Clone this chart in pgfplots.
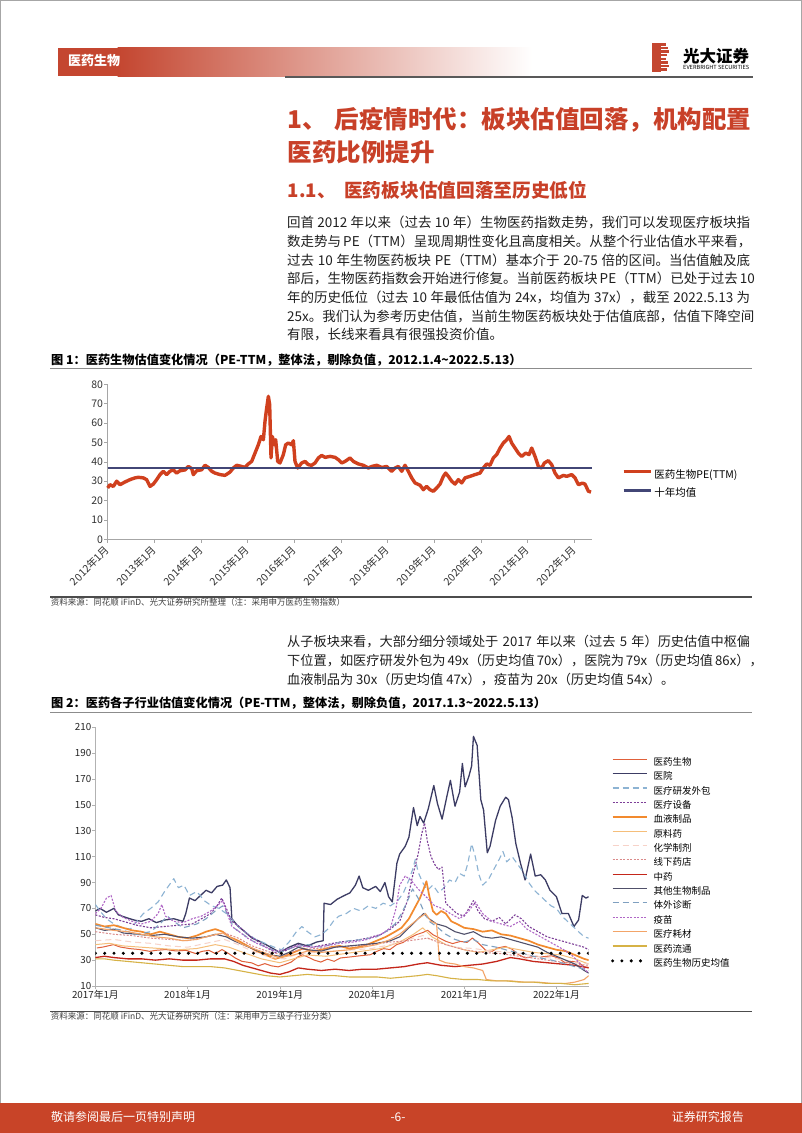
\documentclass[border=0pt]{standalone}
\usepackage{fontspec}
\setmainfont{Noto Sans CJK SC}
\usepackage{pgfplots}
\pgfplotsset{compat=1.18}
\XeTeXlinebreaklocale "zh"
\XeTeXlinebreakskip=0pt plus 2pt minus 0.6pt
\definecolor{hdred}{RGB}{196,70,48}
\definecolor{titlered}{RGB}{200,64,40}
\definecolor{footred}{RGB}{200,68,40}
\definecolor{pered}{RGB}{208,64,30}
\definecolor{penavy}{RGB}{66,70,118}
\definecolor{cA}{RGB}{224,96,58}
\definecolor{cB}{RGB}{60,60,100}
\definecolor{cC}{RGB}{141,179,211}
\definecolor{cD}{RGB}{125,63,152}
\definecolor{cE}{RGB}{242,138,46}
\definecolor{cF}{RGB}{245,190,122}
\definecolor{cG}{RGB}{247,210,200}
\definecolor{cH}{RGB}{218,138,138}
\definecolor{cI}{RGB}{196,38,26}
\definecolor{cJ}{RGB}{80,80,106}
\definecolor{cK}{RGB}{127,160,192}
\definecolor{cL}{RGB}{176,103,198}
\definecolor{cM}{RGB}{243,164,104}
\definecolor{cN}{RGB}{214,178,70}
\newcommand\fs[1]{\fontsize{#1}{#1}\selectfont}
\newcommand\jline[1]{\makebox[463pt][s]{#1}}
\begin{document}
\begin{tikzpicture}
\begin{scope}[x=1pt,y=1pt]
\useasboundingbox (0,0) rectangle (802,-1133);
\fill[white] (0,0) rectangle (802,-1133);
\draw[black!35, line width=1pt] (0.5,-0.5) rectangle (801.5,-1132.5);
% header
\fill[hdred] (58,-47.7) rectangle (118,-76);
\shade[left color=hdred, right color=white] (117.5,-47.7) rectangle (532,-76);
\node[anchor=base west, inner sep=0, text=white, font=\fs{13}\bfseries] at (68,-65.7) {医药生物};
\draw[black!65, line width=2pt] (285,-76.7) -- (753,-76.7);
\fill[hdred] (652,-43) rectangle (661,-72);
\foreach \k/\w in {0/5,1/7,2/8,3/6,4/5,5/7,6/8,7/6} {
  \fill[hdred] (661,{-43-\k*3.625}) rectangle ({661+\w},{-43-\k*3.625-2.6});
}
\node[anchor=base west, inner sep=0, font=\fs{16.5}\bfseries] at (683,-62) {\resizebox{66pt}{!}{光大证券}};
\node[anchor=base west, inner sep=0, font=\fs{5}] at (683,-69) {\resizebox{66pt}{!}{EVERBRIGHT SECURITIES}};
% titles
\node[anchor=base west, inner sep=0, text=titlered, font=\fs{24.5}\bfseries] at (287.6,-128.8) {\makebox[462.4pt][s]{1、\hspace{4pt} 后疫情时代：板块估值回落，机构配置}};
\node[anchor=base west, inner sep=0, text=titlered, font=\fs{24.5}\bfseries] at (287.6,-161.8) {医药比例提升};
\node[anchor=base west, inner sep=0, text=titlered, font=\fs{18.7}\bfseries] at (287.6,-197.4) {1.1、};
\node[anchor=base west, inner sep=0, text=titlered, font=\fs{18.7}\bfseries] at (344,-197.4) {医药板块估值回落至历史低位};
% paragraphs
\begin{scope}[every node/.style={anchor=base west, inner sep=0, font=\fs{13.5}, text=black!88}]
\node at (287,-227.6) {\jline{回首 2012 年以来（过去 10 年）生物医药指数走势，我们可以发现医疗板块指}};
\node at (287,-246.3) {\jline{数走势与 PE（TTM）呈现周期性变化且高度相关。从整个行业估值水平来看，}};
\node at (287,-265.0) {\jline{过去 10 年生物医药板块 PE（TTM）基本介于 20-75 倍的区间。当估值触及底}};
\node at (287,-283.8) {\jline{部后，生物医药指数会开始进行修复。当前医药板块 PE（TTM）已处于过去 10}};
\node at (287,-302.5) {\jline{年的历史低位（过去 10 年最低估值为 24x，均值为 37x），截至 2022.5.13 为}};
\node at (287,-321.2) {\jline{25x。我们认为参考历史估值，当前生物医药板块处于估值底部，估值下降空间}};
\node at (287,-339.9) {有限，长线来看具有很强投资价值。};
\end{scope}
\begin{scope}[every node/.style={anchor=base west, inner sep=0, font=\fs{13.2}, text=black!88}]
\node at (287,-646.6) {\jline{从子板块来看，大部分细分领域处于 2017 年以来（过去 5 年）历史估值中枢偏}};
\node at (287,-665.9) {\jline{下位置，如医疗研发外包为 49x（历史均值 70x），医院为 79x（历史均值 86x），}};
\node at (287,-684.9) {血液制品为 30x（历史均值 47x），疫苗为 20x（历史均值 54x）。};
\end{scope}
% figure 1 frame
\node[anchor=base west, inner sep=0, font=\fs{12.2}\bfseries] at (51,-364.4) {图 1：医药生物估值变化情况（PE-TTM，整体法，剔除负值，2012.1.4\textasciitilde 2022.5.13）};
\draw[black!45, line width=0.9pt] (50,-368.3) -- (752,-368.3);
\draw[black!70, line width=1.3pt] (50,-597) -- (752,-597);
\node[anchor=base west, inner sep=0, font=\fs{8.5}, text=black!75] at (50.7,-605.4) {资料来源：同花顺 iFinD、光大证券研究所整理（注：采用申万医药生物指数）};
% figure 2 frame
\node[anchor=base west, inner sep=0, font=\fs{12.2}\bfseries] at (51,-707.9) {图 2：医药各子行业估值变化情况（PE-TTM，整体法，剔除负值，2017.1.3\textasciitilde 2022.5.13）};
\draw[black!45, line width=0.9pt] (50,-712.5) -- (752,-712.5);
\draw[black!70, line width=1.3pt] (50,-1011.7) -- (752,-1011.7);
\node[anchor=base west, inner sep=0, font=\fs{8.5}, text=black!75] at (50.7,-1019.8) {资料来源：同花顺 iFinD、光大证券研究所（注：采用申万三级子行业分类）};
% footer
\fill[footred] (0,-1103) rectangle (802,-1133);
\node[anchor=base west, inner sep=0, text=white, font=\fs{12}] at (51,-1121.3) {敬请参阅最后一页特别声明};
\node[anchor=base, inner sep=0, text=white, font=\fs{12}] at (398,-1121.3) {-6-};
\node[anchor=base east, inner sep=0, text=white, font=\fs{12}] at (744,-1121.3) {证券研究报告};
\end{scope}

% ---------- chart 1 ----------
\begin{axis}[
  at={(107.7pt,-539.3pt)}, anchor=south west,
  scale only axis, width=484pt, height=155pt,
  xmin=2012, xmax=2022.375, ymin=0, ymax=80,
  axis x line=bottom, axis y line=left,
  axis line style={-, draw=black!35, line width=0.8pt},
  tick align=outside, major tick length=3.5pt,
  tick style={draw=black!35, line width=0.6pt},
  xtick={2012,2013,...,2022},
  xticklabels={2012年1月,2013年1月,2014年1月,2015年1月,2016年1月,2017年1月,2018年1月,2019年1月,2020年1月,2021年1月,2022年1月},
  ytick={0,10,...,80},
  /pgf/number format/assume math mode=true,
  ticklabel style={font=\fs{10.5}, text=black!80},
  xticklabel style={rotate=45, anchor=east, inner sep=0pt},
  xticklabel shift=5pt,
  yticklabel style={inner sep=1pt},
  legend style={at={(1.062,0.4484)}, anchor=north west, draw=none, fill=none, inner sep=0pt, font=\fs{10.5}, row sep=8.2pt, column sep=1.5pt, nodes={inner sep=0pt, text height=8pt, text depth=2.5pt}},
  legend cell align=left,
  legend image code/.code={\draw[#1] (0pt,3.8pt) -- (27.6pt,3.8pt);},
  clip=false,
]
\addplot[pered, line width=3.4pt, line join=round] coordinates {
(2012.000,26.5)(2012.049,28.2)(2012.121,27.3)(2012.192,30.0)(2012.264,28.2)(2012.371,29.6)(2012.478,30.8)(2012.585,31.7)(2012.657,32.0)(2012.764,31.7)(2012.835,30.8)(2012.907,27.3)(2012.978,28.5)(2013.050,30.8)(2013.121,33.4)(2013.193,35.1)(2013.264,33.4)(2013.335,35.1)(2013.407,35.9)(2013.478,34.2)(2013.550,35.4)(2013.657,35.8)(2013.729,37.6)(2013.800,36.5)(2013.836,33.4)(2013.907,35.4)(2014.014,35.9)(2014.086,38.2)(2014.157,37.1)(2014.229,35.1)(2014.300,34.2)(2014.407,33.4)(2014.514,33.0)(2014.622,34.7)(2014.693,36.8)(2014.765,38.2)(2014.872,37.6)(2014.943,37.1)(2015.015,38.9)(2015.086,40.2)(2015.158,44.5)(2015.229,48.8)(2015.287,53.1)(2015.337,51.4)(2015.372,60.9)(2015.408,67.8)(2015.444,73.8)(2015.472,69.5)(2015.501,42.0)(2015.529,53.1)(2015.572,48.8)(2015.601,51.4)(2015.644,40.2)(2015.694,39.4)(2015.765,43.7)(2015.815,48.8)(2015.872,49.7)(2015.944,48.8)(2015.980,50.9)(2016.015,40.2)(2016.073,36.8)(2016.158,39.4)(2016.230,40.2)(2016.301,38.5)(2016.373,38.2)(2016.444,39.4)(2016.516,42.0)(2016.587,43.3)(2016.659,42.3)(2016.766,42.8)(2016.873,42.3)(2016.945,41.1)(2017.016,39.4)(2017.088,40.2)(2017.195,42.0)(2017.266,40.2)(2017.373,38.9)(2017.481,38.2)(2017.588,36.8)(2017.659,37.6)(2017.766,38.2)(2017.874,37.1)(2017.981,37.6)(2018.088,35.1)(2018.159,36.8)(2018.231,37.6)(2018.302,35.1)(2018.373,38.2)(2018.445,35.1)(2018.516,31.7)(2018.588,29.1)(2018.695,27.9)(2018.766,25.6)(2018.838,27.3)(2018.909,25.6)(2018.981,24.8)(2019.052,26.5)(2019.124,28.5)(2019.195,32.5)(2019.245,34.2)(2019.302,32.5)(2019.374,30.0)(2019.445,28.5)(2019.517,30.8)(2019.588,29.1)(2019.660,31.7)(2019.766,32.5)(2019.874,33.4)(2019.981,34.2)(2020.052,36.8)(2020.124,38.9)(2020.195,38.2)(2020.267,42.0)(2020.338,43.7)(2020.410,47.1)(2020.481,49.7)(2020.553,51.4)(2020.603,53.1)(2020.660,49.7)(2020.731,47.1)(2020.803,44.5)(2020.874,42.8)(2020.960,44.5)(2021.031,43.7)(2021.089,47.1)(2021.160,42.8)(2021.232,37.6)(2021.303,36.8)(2021.360,39.4)(2021.446,40.6)(2021.518,38.5)(2021.589,34.2)(2021.661,31.7)(2021.768,33.0)(2021.839,32.5)(2021.947,33.4)(2022.018,31.7)(2022.090,28.2)(2022.175,29.0)(2022.232,28.5)(2022.304,24.8)(2022.361,24.4)};
\addlegendentry{医药生物PE(TTM)}
\addplot[penavy, line width=2.6pt] coordinates {(2012,36.8)(2022.375,36.8)};
\addlegendentry{十年均值}
\end{axis}

% ---------- chart 2 ----------
\begin{axis}[
  at={(95.4pt,-986pt)}, anchor=south west,
  scale only axis, width=493.3pt, height=258.7pt,
  xmin=2017, xmax=2022.35, ymin=10, ymax=210,
  axis x line=bottom, axis y line=left,
  axis line style={-, draw=black!30, line width=0.8pt},
  tick align=outside, major tick length=3pt,
  tick style={draw=black!30, line width=0.6pt},
  xtick={2017,2018,...,2022},
  xticklabels={2017年1月,2018年1月,2019年1月,2020年1月,2021年1月,2022年1月},
  ytick={10,30,...,210},
  /pgf/number format/assume math mode=true,
  ticklabel style={font=\fs{9.8}, text=black!85},
  xticklabel style={inner sep=1pt},
  yticklabel style={inner sep=1pt},
  legend style={at={(1.0446,0.8817)}, anchor=north west, draw=none, fill=none, inner sep=0pt, font=\fs{9.5}, row sep=5.16pt, column sep=5pt, nodes={inner sep=0pt, text height=7.2pt, text depth=2pt}},
  legend cell align=left,
  legend image code/.code={\draw[#1] (0pt,3.4pt) -- (34.3pt,3.4pt);},
  every axis plot/.append style={line join=round},
]
\addplot[cA, line width=1pt] coordinates {(2017.016,39.4)(2017.088,40.2)(2017.195,42)(2017.266,40.2)(2017.373,38.9)(2017.481,38.2)(2017.588,36.8)(2017.659,37.6)(2017.766,38.2)(2017.874,37.1)(2017.981,37.6)(2018.088,35.1)(2018.159,36.8)(2018.231,37.6)(2018.302,35.1)(2018.373,38.2)(2018.445,35.1)(2018.516,31.7)(2018.588,29.1)(2018.695,27.9)(2018.766,25.6)(2018.838,27.3)(2018.909,25.6)(2018.981,24.8)(2019.052,26.5)(2019.124,28.5)(2019.195,32.5)(2019.245,34.2)(2019.302,32.5)(2019.374,30)(2019.445,28.5)(2019.517,30.8)(2019.588,29.1)(2019.660,31.7)(2019.766,32.5)(2019.874,33.4)(2019.981,34.2)(2020.052,36.8)(2020.124,38.9)(2020.195,38.2)(2020.267,42)(2020.338,43.7)(2020.410,47.1)(2020.481,49.7)(2020.553,51.4)(2020.603,53.1)(2020.660,49.7)(2020.731,47.1)(2020.803,44.5)(2020.874,42.8)(2020.960,44.5)(2021.031,43.7)(2021.089,47.1)(2021.160,42.8)(2021.232,37.6)(2021.303,36.8)(2021.360,39.4)(2021.446,40.6)(2021.518,38.5)(2021.589,34.2)(2021.661,31.7)(2021.768,33)(2021.839,32.5)(2021.947,33.4)(2022.018,31.7)(2022.090,28.2)(2022.175,29)(2022.232,28.5)(2022.304,24.8)(2022.35,24.4)};
\addlegendentry{医药生物}
\addplot[cB, line width=1.3pt] coordinates {(2017.00,68)(2017.05,70)(2017.12,67)(2017.20,70)(2017.25,65)(2017.33,63)(2017.42,61)(2017.50,60)(2017.58,62)(2017.66,59)(2017.75,61)(2017.85,62)(2017.95,60)(2017.98,66)(2018.02,78)(2018.08,76)(2018.14,80)(2018.20,84)(2018.26,82)(2018.32,87)(2018.38,88)(2018.42,92)(2018.46,86)(2018.48,62)(2018.55,56)(2018.62,52)(2018.70,47)(2018.80,44)(2018.90,40)(2019.00,36)(2019.10,40)(2019.20,43)(2019.30,41)(2019.40,44)(2019.47,45)(2019.48,74)(2019.55,73)(2019.62,77)(2019.70,80)(2019.76,82)(2019.82,88)(2019.86,95)(2019.90,86)(2019.96,84)(2020.04,87)(2020.09,83)(2020.14,90)(2020.18,79)(2020.22,75)(2020.27,105)(2020.30,112)(2020.36,118)(2020.40,125)(2020.45,148)(2020.49,134)(2020.52,141)(2020.56,136)(2020.61,147)(2020.67,165)(2020.71,151)(2020.76,139)(2020.81,156)(2020.85,169)(2020.90,149)(2020.95,160)(2020.98,182)(2021.01,164)(2021.05,172)(2021.08,180)(2021.10,203)(2021.14,196)(2021.18,154)(2021.21,146)(2021.25,113)(2021.28,118)(2021.34,138)(2021.39,149)(2021.45,156)(2021.48,154)(2021.52,140)(2021.56,120)(2021.61,105)(2021.66,92)(2021.72,112)(2021.77,95)(2021.83,96)(2021.88,92)(2021.93,84)(2022.00,79)(2022.06,66)(2022.13,66)(2022.19,56)(2022.24,61)(2022.28,80)(2022.32,78)(2022.35,79)};
\addlegendentry{医院}
\addplot[cC, line width=1.1pt, dash pattern=on 6pt off 4pt] coordinates {(2017.00,73)(2017.05,68)(2017.12,62)(2017.2,58)(2017.3,55)(2017.38,54)(2017.45,60)(2017.52,66)(2017.6,70)(2017.68,75)(2017.75,83)(2017.82,90)(2017.85,93)(2017.9,86)(2017.96,88)(2018.02,80)(2018.1,83)(2018.18,76)(2018.26,72)(2018.34,70)(2018.42,66)(2018.5,60)(2018.58,54)(2018.66,50)(2018.74,46)(2018.84,43)(2018.94,40)(2019.02,38)(2019.1,44)(2019.18,52)(2019.24,56)(2019.3,52)(2019.38,48)(2019.46,50)(2019.52,54)(2019.58,60)(2019.64,64)(2019.72,66)(2019.8,70)(2019.88,68)(2019.96,72)(2020.04,70)(2020.12,74)(2020.2,72)(2020.28,76)(2020.34,82)(2020.4,92)(2020.44,100)(2020.47,108)(2020.5,98)(2020.55,90)(2020.6,84)(2020.66,88)(2020.72,82)(2020.78,86)(2020.84,92)(2020.9,90)(2020.95,97)(2021.0,95)(2021.04,105)(2021.08,120)(2021.12,110)(2021.16,96)(2021.2,88)(2021.26,92)(2021.32,100)(2021.38,108)(2021.42,114)(2021.46,106)(2021.52,110)(2021.58,104)(2021.64,98)(2021.7,90)(2021.76,84)(2021.82,80)(2021.88,76)(2021.94,72)(2022.0,70)(2022.06,64)(2022.12,60)(2022.18,56)(2022.24,52)(2022.3,48)(2022.35,47)};
\addlegendentry{医疗研发外包}
\addplot[cD, line width=1.1pt, dash pattern=on 2pt off 1.5pt] coordinates {(2017.0,65)(2017.1,63)(2017.2,62)(2017.3,60)(2017.45,57)(2017.6,55)(2017.75,56)(2017.9,57)(2018.05,58)(2018.15,62)(2018.25,66)(2018.32,72)(2018.37,78)(2018.42,70)(2018.48,60)(2018.56,56)(2018.65,50)(2018.75,45)(2018.85,40)(2018.95,36)(2019.05,37)(2019.2,42)(2019.35,40)(2019.5,42)(2019.65,44)(2019.8,45)(2019.95,47)(2020.1,50)(2020.2,54)(2020.3,60)(2020.38,75)(2020.44,95)(2020.5,112)(2020.54,128)(2020.57,136)(2020.6,122)(2020.64,110)(2020.68,104)(2020.72,100)(2020.76,102)(2020.8,74)(2020.86,70)(2020.92,66)(2021.0,64)(2021.05,70)(2021.1,76)(2021.15,68)(2021.22,62)(2021.3,60)(2021.38,63)(2021.45,58)(2021.55,65)(2021.62,62)(2021.7,56)(2021.8,52)(2021.9,48)(2022.0,46)(2022.1,44)(2022.2,42)(2022.3,40)(2022.35,38)};
\addlegendentry{医疗设备}
\addplot[cE, line width=1.7pt] coordinates {(2017.0,58)(2017.1,56)(2017.2,57)(2017.3,55)(2017.4,53)(2017.5,52)(2017.6,50)(2017.7,52)(2017.8,50)(2017.9,48)(2018.0,47)(2018.1,49)(2018.2,52)(2018.3,54)(2018.38,52)(2018.45,48)(2018.55,45)(2018.65,41)(2018.75,37)(2018.85,34)(2018.95,31)(2019.05,33)(2019.15,36)(2019.25,39)(2019.35,37)(2019.45,38)(2019.55,40)(2019.65,41)(2019.75,39)(2019.85,40)(2019.95,42)(2020.05,45)(2020.15,48)(2020.25,52)(2020.32,55)(2020.4,62)(2020.46,70)(2020.52,78)(2020.56,85)(2020.59,91)(2020.62,80)(2020.66,68)(2020.7,65)(2020.75,68)(2020.8,66)(2020.86,60)(2020.92,58)(2021.0,55)(2021.1,54)(2021.2,52)(2021.3,53)(2021.4,50)(2021.5,49)(2021.6,47)(2021.7,45)(2021.8,42)(2021.9,40)(2022.0,38)(2022.1,37)(2022.2,34)(2022.3,31)(2022.35,30)};
\addlegendentry{血液制品}
\addplot[cF, line width=1pt] coordinates {(2017.0,42)(2017.15,43)(2017.3,41)(2017.5,40)(2017.7,39)(2017.9,38)(2018.1,39)(2018.3,42)(2018.45,40)(2018.6,36)(2018.8,31)(2019.0,28)(2019.15,31)(2019.3,34)(2019.5,33)(2019.7,35)(2019.9,37)(2020.1,39)(2020.3,44)(2020.45,50)(2020.55,55)(2020.65,48)(2020.8,42)(2021.0,38)(2021.15,36)(2021.3,38)(2021.45,40)(2021.6,38)(2021.75,36)(2021.9,35)(2022.05,34)(2022.2,31)(2022.35,27)};
\addlegendentry{原料药}
\addplot[cG, line width=1pt, dash pattern=on 6pt off 4pt] coordinates {(2017.0,45)(2017.2,46)(2017.4,44)(2017.6,43)(2017.8,41)(2018.0,40)(2018.2,43)(2018.4,46)(2018.55,42)(2018.7,37)(2018.9,32)(2019.05,31)(2019.2,35)(2019.4,36)(2019.6,37)(2019.8,38)(2020.0,39)(2020.2,42)(2020.4,46)(2020.55,49)(2020.7,44)(2020.9,40)(2021.1,39)(2021.3,37)(2021.5,36)(2021.7,34)(2021.9,32)(2022.1,30)(2022.35,27)};
\addlegendentry{化学制剂}
\addplot[cH, line width=1pt, dash pattern=on 2pt off 1.5pt] coordinates {(2017.0,52)(2017.2,50)(2017.4,49)(2017.6,47)(2017.8,46)(2018.0,45)(2018.2,48)(2018.4,51)(2018.55,47)(2018.7,41)(2018.9,36)(2019.05,34)(2019.2,38)(2019.4,39)(2019.6,40)(2019.8,41)(2020.0,42)(2020.2,44)(2020.4,45)(2020.6,47)(2020.8,42)(2021.0,38)(2021.2,36)(2021.4,35)(2021.6,33)(2021.8,31)(2022.0,29)(2022.2,27)(2022.35,26)};
\addlegendentry{线下药店}
\addplot[cI, line width=1.3pt] coordinates {(2017.0,32)(2017.1,33)(2017.2,32)(2017.35,31)(2017.5,31)(2017.65,30)(2017.8,31)(2017.95,30)(2018.1,30)(2018.25,31)(2018.4,31)(2018.5,29)(2018.6,26)(2018.7,24)(2018.8,22)(2018.9,20)(2019.0,19)(2019.1,21)(2019.2,24)(2019.3,23)(2019.45,22)(2019.6,23)(2019.75,22)(2019.9,23)(2020.05,23)(2020.2,24)(2020.35,25)(2020.5,27)(2020.6,28)(2020.75,26)(2020.9,25)(2021.05,26)(2021.2,27)(2021.35,29)(2021.5,32)(2021.6,31)(2021.75,29)(2021.9,28)(2022.05,27)(2022.2,26)(2022.35,24)};
\addlegendentry{中药}
\addplot[cJ, line width=1.1pt] coordinates {(2017.0,55)(2017.1,53)(2017.2,54)(2017.3,51)(2017.45,50)(2017.6,49)(2017.75,50)(2017.9,48)(2018.05,47)(2018.2,48)(2018.3,50)(2018.42,48)(2018.5,45)(2018.6,42)(2018.7,39)(2018.8,36)(2018.9,34)(2019.0,33)(2019.1,36)(2019.2,40)(2019.3,38)(2019.45,37)(2019.6,40)(2019.75,41)(2019.9,42)(2020.05,43)(2020.2,45)(2020.3,48)(2020.4,55)(2020.5,62)(2020.56,66)(2020.62,62)(2020.7,58)(2020.8,56)(2020.9,52)(2021.0,50)(2021.1,52)(2021.2,48)(2021.3,47)(2021.4,48)(2021.5,46)(2021.6,44)(2021.7,42)(2021.8,40)(2021.9,36)(2022.0,33)(2022.1,30)(2022.2,27)(2022.3,22)(2022.35,20)};
\addlegendentry{其他生物制品}
\addplot[cK, line width=1.1pt, dash pattern=on 6pt off 4pt] coordinates {(2017.0,57)(2017.15,55)(2017.3,53)(2017.45,50)(2017.6,52)(2017.7,58)(2017.78,64)(2017.85,60)(2017.95,55)(2018.1,58)(2018.2,62)(2018.3,68)(2018.38,72)(2018.44,65)(2018.5,55)(2018.6,50)(2018.7,45)(2018.85,40)(2019.0,36)(2019.15,40)(2019.3,42)(2019.45,40)(2019.6,43)(2019.75,45)(2019.9,46)(2020.05,48)(2020.15,52)(2020.25,58)(2020.32,66)(2020.38,75)(2020.44,85)(2020.5,78)(2020.56,68)(2020.62,60)(2020.7,56)(2020.8,50)(2020.9,46)(2021.0,44)(2021.1,46)(2021.2,42)(2021.35,40)(2021.5,37)(2021.65,35)(2021.8,32)(2021.95,30)(2022.1,27)(2022.25,24)(2022.35,22)};
\addlegendentry{体外诊断}
\addplot[cL, line width=1.1pt, dash pattern=on 2pt off 1.5pt] coordinates {(2017.0,66)(2017.06,70)(2017.12,78)(2017.17,80)(2017.22,68)(2017.3,63)(2017.4,60)(2017.5,58)(2017.6,60)(2017.68,66)(2017.72,73)(2017.76,64)(2017.85,60)(2017.95,59)(2018.05,62)(2018.15,64)(2018.25,68)(2018.32,72)(2018.38,76)(2018.42,68)(2018.48,56)(2018.56,52)(2018.65,47)(2018.75,43)(2018.85,40)(2018.95,37)(2019.05,38)(2019.2,41)(2019.35,40)(2019.5,41)(2019.65,43)(2019.8,44)(2019.95,46)(2020.1,50)(2020.2,55)(2020.26,70)(2020.3,88)(2020.36,95)(2020.42,92)(2020.5,85)(2020.6,78)(2020.68,72)(2020.76,70)(2020.85,66)(2020.95,62)(2021.05,68)(2021.12,75)(2021.2,66)(2021.3,60)(2021.4,58)(2021.5,56)(2021.6,60)(2021.68,54)(2021.78,50)(2021.88,46)(2021.98,42)(2022.08,38)(2022.18,33)(2022.26,27)(2022.32,22)(2022.35,20)};
\addlegendentry{疫苗}
\addplot[cM, line width=1.1pt] coordinates {(2017.0,55)(2017.1,54)(2017.2,53)(2017.35,52)(2017.5,50)(2017.65,48)(2017.8,47)(2017.95,45)(2018.1,46)(2018.25,49)(2018.38,51)(2018.5,46)(2018.6,42)(2018.75,38)(2018.9,34)(2019.0,32)(2019.15,34)(2019.3,37)(2019.45,36)(2019.6,37)(2019.75,38)(2019.9,40)(2020.05,42)(2020.2,46)(2020.3,50)(2020.4,56)(2020.5,62)(2020.58,66)(2020.64,60)(2020.7,58)(2020.73,30)(2020.8,28)(2020.9,27)(2021.0,25)(2021.1,24)(2021.2,22)(2021.24,15)(2021.35,14)(2021.5,14)(2021.65,13)(2021.8,13)(2021.95,12)(2022.1,12)(2022.2,13)(2022.3,15)(2022.35,18)};
\addlegendentry{医疗耗材}
\addplot[cN, line width=1.1pt] coordinates {(2017.0,31)(2017.1,31)(2017.2,30)(2017.35,29)(2017.5,28)(2017.65,27)(2017.8,26)(2017.95,25)(2018.1,25)(2018.25,25)(2018.4,24)(2018.55,22)(2018.7,20)(2018.85,18)(2019.0,17)(2019.15,18)(2019.3,19)(2019.45,18)(2019.6,18)(2019.75,17)(2019.9,17)(2020.05,17)(2020.2,16)(2020.35,17)(2020.5,18)(2020.6,19)(2020.7,18)(2020.85,16)(2021.0,15)(2021.15,15)(2021.3,14)(2021.45,14)(2021.6,13)(2021.75,13)(2021.9,12)(2022.05,12)(2022.2,11)(2022.35,12)};
\addlegendentry{医药流通}
\addplot[black, line width=3.4pt, line cap=round, dash pattern=on 0pt off 9.3pt] coordinates {(2017,35.3)(2022.35,35.3)};
\addlegendentry{医药生物历史均值}
\end{axis}
\end{tikzpicture}
\end{document}
